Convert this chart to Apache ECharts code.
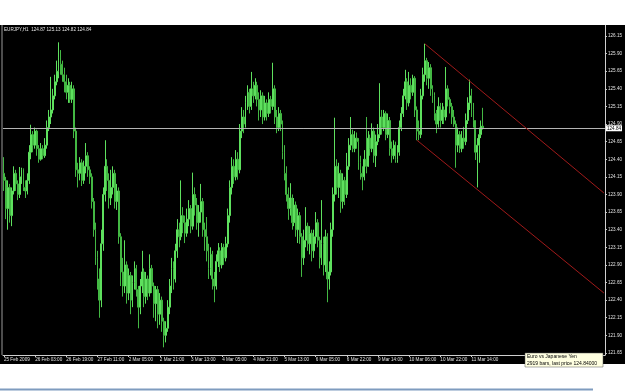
<!DOCTYPE html>
<html><head><meta charset="utf-8">
<script src="https://cdn.jsdelivr.net/npm/echarts@6/dist/echarts.min.js"></script>
<style>html,body{margin:0;padding:0;background:#fff}#c{width:625px;height:391px}</style>
</head><body><div id="c"></div>
<script>
const headerText = 'EURJPY,H1  124.87 125.13 124.82 124.84';
const tickLabels = ['25 Feb 2009','26 Feb 03:00','26 Feb 19:00','27 Feb 11:00','2 Mar 05:00','2 Mar 21:00','3 Mar 13:00','4 Mar 05:00','4 Mar 21:00','5 Mar 13:00','6 Mar 05:00','6 Mar 22:00','9 Mar 14:00','10 Mar 06:00','10 Mar 22:00','11 Mar 14:00'];
const tickStep = 16;
const slotCount = 309;
const priceTicks = [121.65,121.90,122.15,122.40,122.65,122.90,123.15,123.40,123.65,123.90,124.15,124.40,124.65,124.90,125.15,125.40,125.65,125.90,126.15];
const currentPrice = 124.84;
const channelUpper = [[216, 126.04], [308, 123.92]];
const channelLower = [[212, 124.67], [308, 122.50]];
const tooltipLines = ['Euro vs Japanese Yen', '2919 bars, last price 124.84000'];
// [open, close, low, high]
const ohlc = [
[124.20,124.10,123.95,124.43],[124.10,123.70,123.55,124.15],[123.70,124.00,123.40,124.10],[124.00,123.60,123.50,124.05],[123.60,123.95,123.45,124.00],
[123.95,124.20,123.90,124.30],[124.20,124.05,123.95,124.25],[124.05,123.90,123.82,124.10],[123.90,124.15,123.85,124.29],[124.15,124.25,124.05,124.28],
[124.25,124.00,123.95,124.27],[124.00,123.95,123.85,124.10],[123.95,124.10,123.90,124.20],[124.10,124.50,124.05,124.60],[124.50,124.75,124.40,124.89],
[124.75,124.60,124.50,124.80],[124.60,124.80,124.55,124.85],[124.80,124.55,124.45,124.82],[124.55,124.40,124.35,124.60],[124.40,124.55,124.38,124.63],
[124.55,124.45,124.40,124.60],[124.45,124.60,124.42,124.70],[124.60,124.85,124.55,124.95],[124.85,125.00,124.80,125.10],[125.00,125.10,124.90,125.57],
[125.10,125.30,125.05,125.40],[125.30,125.50,125.25,125.60],[125.50,125.65,125.45,125.80],[125.65,125.85,125.55,126.06],[125.85,125.75,125.60,125.95],
[125.75,125.60,125.50,125.80],[125.60,125.50,125.35,125.70],[125.50,125.35,125.25,125.60],[125.35,125.45,125.20,125.55],[125.45,125.25,125.20,125.50],
[125.25,125.40,125.20,125.50],[125.40,124.80,124.70,125.45],[124.80,124.25,124.15,124.85],[124.25,124.20,124.00,124.35],[124.20,124.35,124.10,124.43],
[124.35,124.10,124.02,124.40],[124.10,124.30,124.05,124.38],[124.30,124.45,124.20,124.63],[124.45,124.25,124.15,124.50],[124.25,124.15,124.05,124.30],
[124.15,123.80,123.70,124.20],[123.80,123.40,123.30,123.85],[123.40,123.00,122.90,123.50],[123.00,122.70,122.55,123.10],[122.70,122.40,122.15,122.85],
[122.40,123.20,122.30,123.40],[123.20,123.90,123.10,124.00],[123.90,124.30,123.80,124.67],[124.30,124.10,123.95,124.40],[124.10,123.85,123.70,124.20],
[123.85,124.00,123.75,124.25],[124.00,124.20,123.90,124.30],[124.20,123.80,123.70,124.25],[123.80,123.95,123.68,124.05],[123.95,123.30,123.20,124.00],
[123.30,122.80,122.60,123.35],[122.80,122.60,122.45,123.00],[122.60,122.90,122.50,123.25],[122.90,122.50,122.35,122.95],[122.50,122.75,122.40,122.85],
[122.75,122.40,122.20,122.80],[122.40,122.65,122.30,122.75],[122.65,122.85,122.55,122.95],[122.85,122.55,122.45,122.90],[122.55,122.30,122.00,122.60],
[122.30,122.60,122.20,122.70],[122.60,122.80,122.50,123.10],[122.80,122.45,122.30,122.85],[122.45,122.70,122.35,122.80],[122.70,122.50,122.40,122.75],
[122.50,122.85,122.45,123.05],[122.85,122.60,122.50,122.90],[122.60,122.35,122.15,122.65],[122.35,122.55,122.10,122.60],[122.55,122.20,122.00,122.60],
[122.20,122.40,122.05,122.50],[122.40,122.10,121.95,122.45],[122.10,121.90,121.73,122.15],[121.90,122.00,121.80,122.10],[122.00,122.30,121.95,122.40],
[122.30,122.60,122.20,122.70],[122.60,122.85,122.50,123.00],[122.85,122.70,122.55,122.95],[122.70,123.10,122.65,123.20],[123.10,123.40,123.00,123.55],
[123.40,123.30,123.15,123.50],[123.30,123.60,123.25,124.10],[123.60,123.50,123.35,123.72],[123.50,123.35,123.21,123.60],[123.35,123.55,123.30,123.70],
[123.55,123.70,123.45,123.82],[123.70,123.45,123.35,123.75],[123.45,123.90,123.40,124.21],[123.90,123.75,123.60,124.00],[123.75,123.50,123.40,123.85],
[123.50,123.65,123.30,123.75],[123.65,123.80,123.50,124.05],[123.80,123.40,123.30,123.85],[123.40,123.30,123.10,123.50],[123.30,123.10,122.95,123.58],
[123.10,122.85,122.70,123.20],[122.85,123.05,122.75,123.15],[123.05,122.70,122.55,123.10],[122.70,122.60,122.37,122.80],[122.60,122.95,122.55,123.05],
[122.95,123.10,122.87,123.21],[123.10,122.90,122.80,123.15],[122.90,123.15,122.85,123.21],[123.15,123.00,122.90,123.20],[123.00,123.20,122.95,123.30],
[123.20,123.60,123.15,123.70],[123.60,124.00,123.50,124.10],[124.00,124.30,123.90,124.43],[124.30,124.15,124.05,124.40],[124.15,124.40,124.10,124.53],
[124.40,124.25,124.11,124.50],[124.25,124.80,124.20,124.90],[124.80,125.00,124.70,125.14],[125.00,124.90,124.77,125.10],[124.90,125.20,124.85,125.30],
[125.20,125.35,125.10,125.45],[125.35,125.15,125.05,125.40],[125.15,125.40,125.10,125.64],[125.40,125.30,125.20,125.50],[125.30,125.45,125.25,125.55],
[125.45,125.25,125.15,125.50],[125.25,125.10,124.95,125.35],[125.10,125.30,125.00,125.38],[125.30,125.00,124.90,125.35],[125.00,125.20,124.95,125.30],
[125.20,125.05,124.95,125.25],[125.05,125.25,125.00,125.35],[125.25,125.15,125.05,125.30],[125.15,125.40,125.10,125.77],[125.40,125.00,124.90,125.45],
[125.00,124.85,124.77,125.10],[124.85,125.05,124.80,125.14],[125.05,124.90,124.80,125.10],[124.90,124.50,124.40,124.95],[124.50,124.20,124.10,124.60],
[124.20,123.90,123.80,124.30],[123.90,123.70,123.54,124.00],[123.70,123.85,123.60,124.06],[123.85,123.50,123.40,123.90],[123.50,123.75,123.45,123.85],
[123.75,123.40,123.30,123.80],[123.40,123.60,123.21,123.70],[123.60,123.30,123.20,123.65],[123.30,123.00,122.73,123.35],[123.00,123.25,122.90,123.40],
[123.25,123.45,123.15,123.72],[123.45,123.20,123.10,123.50],[123.20,123.35,123.05,123.45],[123.35,123.10,122.95,123.40],[123.10,123.30,123.00,123.40],
[123.30,123.50,123.20,123.65],[123.50,123.25,123.15,123.55],[123.25,123.00,122.85,123.30],[123.00,123.20,122.90,123.82],[123.20,122.90,122.75,123.30],
[122.90,123.30,122.80,123.40],[123.30,122.70,122.37,123.35],[122.70,122.80,122.55,122.95],[122.80,123.40,122.75,123.50],[123.40,123.90,123.30,124.00],
[123.90,124.30,123.80,124.99],[124.30,124.00,123.90,124.40],[124.00,124.20,123.85,124.35],[124.20,123.80,123.64,124.25],[123.80,124.10,123.70,124.20],
[124.10,123.90,123.75,124.15],[123.90,124.30,123.85,124.49],[124.30,124.60,124.25,124.70],[124.60,124.75,124.53,125.00],[124.75,124.55,124.50,124.82],
[124.55,124.70,124.50,124.80],[124.70,124.65,124.55,124.78],[124.65,124.35,124.25,124.70],[124.35,124.20,124.11,124.45],[124.20,124.15,123.96,124.30],
[124.15,124.40,124.10,124.53],[124.40,124.30,124.20,125.00],[124.30,124.70,124.29,124.80],[124.70,124.55,124.45,124.75],[124.55,124.80,124.50,124.91],
[124.80,124.45,124.35,124.85],[124.45,124.65,124.29,124.75],[124.65,124.75,124.60,124.90],[124.75,125.00,124.70,125.48],[125.00,124.85,124.75,125.10],
[124.85,125.05,124.80,125.10],[125.05,124.75,124.67,125.08],[124.75,124.95,124.70,125.05],[124.95,124.55,124.45,125.00],[124.55,124.45,124.35,124.65],
[124.45,124.60,124.40,124.67],[124.60,124.40,124.35,124.65],[124.40,124.50,124.35,124.60],[124.50,124.85,124.45,124.95],[124.85,125.05,124.80,125.14],
[125.05,125.30,125.00,125.40],[125.30,125.50,125.25,125.67],[125.50,125.20,125.10,125.55],[125.20,125.45,125.15,125.64],[125.45,125.35,125.25,125.55],
[125.35,125.55,125.30,125.60],[125.55,125.10,125.00,125.58],[125.10,124.80,124.67,125.15],[124.80,124.75,124.67,124.95],[124.75,125.30,124.70,125.40],
[125.30,125.60,125.25,125.70],[125.60,125.80,125.50,126.04],[125.80,125.55,125.45,125.84],[125.55,125.70,125.40,125.78],[125.70,125.40,125.30,125.75],
[125.40,125.30,125.20,125.45],[125.30,125.05,124.95,125.35],[125.05,124.90,124.77,125.10],[124.90,125.15,124.85,125.28],[125.15,124.95,124.85,125.20],
[124.95,125.10,124.90,125.20],[125.10,125.00,124.90,125.15],[125.00,125.40,124.95,125.71],[125.40,125.25,125.15,125.45],[125.25,125.15,125.05,125.28],
[125.15,125.00,124.90,125.20],[125.00,124.90,124.86,125.10],[124.90,124.60,124.28,124.95],[124.60,124.75,124.50,124.85],[124.75,124.55,124.49,124.80],
[124.55,124.70,124.50,124.80],[124.70,124.65,124.55,124.86],[124.65,124.95,124.60,125.05],[124.95,125.20,124.90,125.28],[125.20,125.30,125.10,125.53],
[125.30,125.10,125.00,125.40],[125.10,124.95,124.85,125.20],[124.95,124.50,124.39,124.95],[124.50,124.60,124.00,124.70],[124.60,124.75,124.35,124.85],
[124.75,124.87,124.70,124.95],[124.87,124.84,124.82,125.13]
];

const categories = Array.from({length: slotCount}, (_, i) => String(i));
const chart = echarts.init(document.getElementById('c'), null, {renderer: 'canvas'});
const axisColor = '#cfcfcf';
const lblFont = 'Liberation Sans';
chart.setOption({
  animation: false,
  backgroundColor: '#000',
  grid: {left: 3, right: 20, top: 25, bottom: 36},
  xAxis: {
    type: 'category', data: categories, boundaryGap: true,
    axisLine: {show: true, lineStyle: {color: axisColor, width: 1}},
    axisTick: {show: true, interval: (i) => i % tickStep === 0 && i / tickStep < tickLabels.length, alignWithLabel: true, length: 2, lineStyle: {color: axisColor}},
    axisLabel: {interval: (i) => i % tickStep === 0 && i / tickStep < tickLabels.length,
      formatter: (v, i) => tickLabels[i / tickStep] || '', align: 'left', color: '#e0e0e0', fontSize: 4.6, fontFamily: lblFont, margin: 2.5},
    splitLine: {show: false}
  },
  yAxis: {
    type: 'value', position: 'right', min: 121.621, max: 126.306, scale: true,
    axisLine: {show: true, lineStyle: {color: axisColor, width: 1}},
    axisTick: {show: true, customValues: priceTicks, length: 2, lineStyle: {color: axisColor}},
    axisLabel: {customValues: priceTicks, formatter: (v) => v.toFixed(2), color: '#e0e0e0', fontSize: 4.6, fontFamily: lblFont, margin: 3},
    splitLine: {show: false}
  },
  series: [{
    type: 'candlestick', data: ohlc, barWidth: 1.4,
    itemStyle: {color: '#35b535', color0: '#258a25', borderColor: '#5ee05e', borderColor0: '#43b843', borderWidth: 1},
    markLine: {
      silent: true, symbol: ['none', 'none'], animation: false,
      data: [
        {yAxis: currentPrice, lineStyle: {color: '#b4b4b4', type: 'solid', width: 1},
          label: {show: true, position: 'end', formatter: currentPrice.toFixed(2), backgroundColor: '#fff', color: '#000', fontSize: 4.6, fontFamily: lblFont, padding: [1, 1, 0, 1], distance: 1}},
        [{coord: [String(channelUpper[0][0]), channelUpper[0][1]], lineStyle: {color: '#a01a1a', type: 'solid', width: 1}, label: {show: false}},
         {coord: [String(channelUpper[1][0]), channelUpper[1][1]]}],
        [{coord: [String(channelLower[0][0]), channelLower[0][1]], lineStyle: {color: '#a01a1a', type: 'solid', width: 1}, label: {show: false}},
         {coord: [String(channelLower[1][0]), channelLower[1][1]]}]
      ]
    }
  }],
  graphic: [
    {type: 'rect', z: 50, silent: true, shape: {x: 0, y: 0, width: 625, height: 25}, style: {fill: '#fff'}},
    {type: 'rect', z: 50, silent: true, shape: {x: 0, y: 364, width: 625, height: 27}, style: {fill: '#fff'}},
    {type: 'line', z: 50, silent: true, shape: {x1: 2, y1: 25, x2: 2, y2: 355}, style: {stroke: '#9a9a9a', lineWidth: 1}},
    {type: 'line', z: 50, silent: true, shape: {x1: 0, y1: 389.5, x2: 593, y2: 389.5}, style: {stroke: '#7f9cbf', lineWidth: 2}},
    {type: 'text', z: 50, silent: true, x: 4, y: 27, style: {text: headerText, fill: '#e4e4e4', font: '4.6px Liberation Sans', verticalAlign: 'top'}},
    {type: 'rect', z: 100, silent: true, shape: {x: 525, y: 353, width: 78, height: 14}, style: {fill: '#ffffe1', stroke: '#555', lineWidth: 0.5}},
    {type: 'text', z: 101, silent: true, x: 527, y: 354.5, style: {text: tooltipLines[0], fill: '#000', font: '5px Liberation Sans', verticalAlign: 'top'}},
    {type: 'text', z: 101, silent: true, x: 527, y: 361, style: {text: tooltipLines[1], fill: '#000', font: '5px Liberation Sans', verticalAlign: 'top'}}
  ]
});
</script></body></html>
